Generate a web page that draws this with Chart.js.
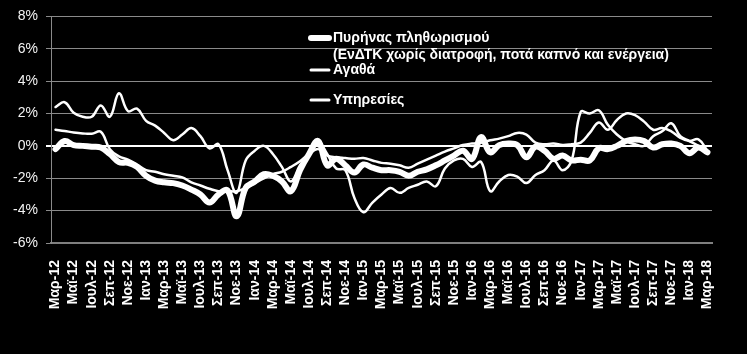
<!DOCTYPE html>
<html>
<head>
<meta charset="utf-8">
<script src="https://cdn.jsdelivr.net/npm/chart.js@4"></script>
<style>
  html, body { margin: 0; padding: 0; background: #000; }
  #wrap { width: 747px; height: 354px; }
</style>
</head>
<body>
<div id="wrap"><canvas id="chart"></canvas></div>
<script>
// μήνες Μαρ-12 ... Μαρ-18
const monthNames = ['Ιαν', 'Φεβ', 'Μαρ', 'Απρ', 'Μαϊ', 'Ιουν', 'Ιουλ', 'Αυγ', 'Σεπ', 'Οκτ', 'Νοε', 'Δεκ'];
const months = [];
for (let y = 12; y <= 18; y++) {
  for (let m = 0; m < 12; m++) {
    if (y === 12 && m < 2) continue;
    if (y === 18 && m > 2) break;
    months.push(monthNames[m] + '-' + y);
  }
}

// y-as ticks
const yTicks = [-6, -4, -2, 0, 2, 4, 6, 8];

// πυρήνας πληθωρισμού (dikke lijn)
const core = [
  -0.2, 0.3, 0.05, 0.0, -0.05, -0.1, -0.5, -1.0, -1.05, -1.3,
  -1.85, -2.15, -2.25, -2.3, -2.45, -2.7, -3.0, -3.5, -3.0, -2.75,
  -4.35, -2.6, -2.2, -1.75, -1.85, -2.2, -2.8, -1.5, -0.5, 0.3,
  -1.2, -0.8, -1.2, -1.65, -1.15, -1.35, -1.5, -1.5, -1.6, -1.85,
  -1.6, -1.45, -1.2, -0.9, -0.6, -0.3, -0.8, 0.55, -0.4, 0.05,
  0.15, 0.05, -0.7, -0.05, -0.3, -0.8, -0.6, -0.9, -0.85, -0.9,
  -0.15, -0.2, 0.0, 0.3, 0.4, 0.3, -0.1, 0.1, 0.15, 0.0,
  -0.45, -0.1, -0.4
];

// αγαθά
const goods = [
  2.4, 2.7, 2.05, 1.8, 1.8, 2.5, 1.8, 3.25, 2.15, 2.3,
  1.55, 1.25, 0.8, 0.35, 0.7, 1.1, 0.6, -0.15, 0.1, -1.5,
  -2.9, -0.9, -0.3, 0.0, -0.5, -1.3, -2.2, -1.2, -0.5, 0.25,
  -0.5, -1.4, -1.5, -3.2, -4.1, -3.5, -3.0, -2.6, -2.9, -2.6,
  -2.4, -2.2, -2.5, -1.4, -0.9, -0.8, -1.3, -1.0, -2.8, -2.2,
  -1.8, -1.9, -2.3, -1.8, -1.5, -0.9, -1.5, -0.9, 2.1, 2.0,
  2.2, 1.3, 0.7, 0.3, 0.1, 0.0, 0.6, 0.9, 1.4, 0.6,
  0.3, 0.0, -0.3
];

// υπηρεσίες
const services = [
  1.0, 0.92, 0.83, 0.77, 0.75, 0.87, -0.2, -0.65, -0.85, -1.15,
  -1.5, -1.6, -1.75, -1.85, -1.95, -2.25, -2.45, -2.65, -2.8, -2.8,
  -2.8, -2.6, -2.3, -2.0, -1.75, -1.6, -1.3, -0.95, -0.5, -0.2,
  -0.6, -0.7, -0.75, -0.8, -0.75, -0.9, -1.05, -1.1, -1.2, -1.35,
  -1.1, -0.85, -0.6, -0.35, -0.15, 0.05, 0.15, 0.2, 0.35, 0.45,
  0.6, 0.8, 0.7, 0.2, 0.1, 0.15, 0.05, 0.1, 0.2, 0.8,
  1.45, 1.0, 1.6, 2.0, 1.9, 1.5, 1.0, 1.1, 0.9, 0.5,
  0.3, 0.4, -0.3
];

const coreName = 'Πυρήνας πληθωρισμού';
const coreNote = '(ΕνΔΤΚ χωρίς διατροφή, ποτά καπνό και ενέργεια)';
const goodsName = 'Αγαθά';
const servicesName = 'Υπηρεσίες';

const font = 'Liberation Sans, Arial, sans-serif';

// legenda binnen het plotvlak tekenen
const legendInside = {
  id: 'legendInside',
  afterDraw(chart) {
    const ctx = chart.ctx;
    const items = [
      { lines: [coreName, coreNote], width: 6, y: 38 },
      { lines: [goodsName], width: 3, y: 70 },
      { lines: [servicesName], width: 3, y: 100 }
    ];
    ctx.save();
    ctx.strokeStyle = '#fff';
    ctx.fillStyle = '#fff';
    ctx.lineCap = 'round';
    ctx.font = 'bold 14px ' + font;
    ctx.textBaseline = 'middle';
    items.forEach(item => {
      ctx.lineWidth = item.width;
      ctx.beginPath();
      ctx.moveTo(311, item.y);
      ctx.lineTo(329, item.y);
      ctx.stroke();
      item.lines.forEach((t, k) => ctx.fillText(t, 333, item.y + k * 17));
    });
    ctx.restore();
  }
};

const lineStyle = {
  pointRadius: 0,
  tension: 0.4,
  borderColor: '#fff',
  borderJoinStyle: 'round',
  borderCapStyle: 'round',
  fill: false
};

new Chart(document.getElementById('chart'), {
  type: 'line',
  data: {
    labels: months,
    datasets: [
      { ...lineStyle, label: servicesName, data: services, borderWidth: 2.5 },
      { ...lineStyle, label: goodsName, data: goods, borderWidth: 2.5 },
      { ...lineStyle, label: coreName, data: core, borderWidth: 6 }
    ]
  },
  options: {
    responsive: true,
    maintainAspectRatio: false,
    animation: false,
    layout: { padding: { left: 0, right: 35, top: 16, bottom: 0 } },
    plugins: {
      legend: { display: false },
      tooltip: { enabled: false }
    },
    scales: {
      x: {
        offset: true,
        grid: { display: false },
        border: { display: true, color: '#7f7f7f', width: 2 },
        ticks: {
          autoSkip: false,
          maxRotation: 90,
          minRotation: 90,
          padding: 9,
          color: '#fff',
          font: { family: font, size: 14, weight: 'bold' },
          callback: (v, i) => (i % 2 === 0 ? months[i] : '')
        },
        afterFit: s => { s.height = 111; }
      },
      y: {
        min: -6,
        max: 8,
        afterBuildTicks: s => { s.ticks = yTicks.map(v => ({ value: v })); },
        grid: {
          color: c => (c.tick && c.tick.value === 0 ? '#ffffff' : '#8a8a8a'),
          lineWidth: c => (c.tick && c.tick.value === 0 ? 2 : 1),
          tickLength: 5
        },
        border: { display: true, color: '#8a8a8a', width: 1 },
        ticks: {
          padding: 8,
          color: '#f2f2f2',
          font: { family: font, size: 14 },
          callback: v => v + '%'
        },
        afterFit: s => { s.width = 51; }
      }
    }
  },
  plugins: [legendInside]
});
</script>
</body>
</html>
